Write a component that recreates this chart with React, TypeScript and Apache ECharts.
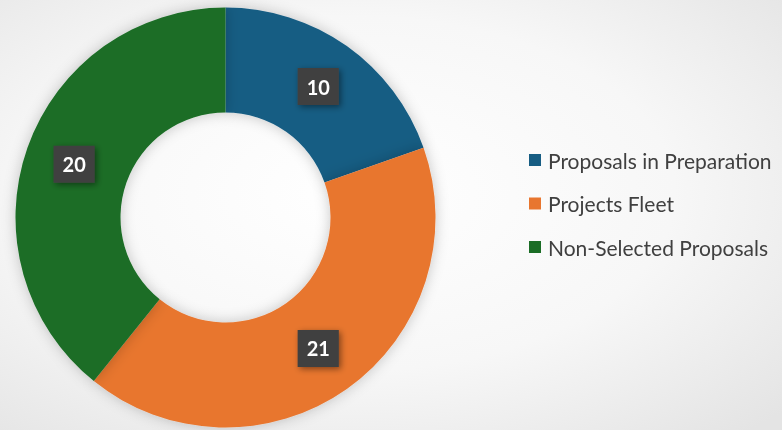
import React, { useEffect, useRef } from "react";
import * as echarts from "echarts";

const categories = ["Proposals in Preparation", "Projects Fleet", "Non-Selected Proposals"];
const values = [10, 21, 20];
const colors = ["#175d83", "#e8762f", "#1b6d26"];

export default function App() {
  const ref = useRef<HTMLDivElement>(null);
  useEffect(() => {
    if (!ref.current) return;
    const chart = echarts.init(ref.current, undefined, { renderer: "svg" });
    chart.setOption({
      animation: false,
      backgroundColor: {
        type: "radial",
        x: 0.45,
        y: 0.45,
        r: 0.75,
        colorStops: [
          { offset: 0, color: "#ffffff" },
          { offset: 0.55, color: "#f7f7f7" },
          { offset: 1, color: "#e4e4e4" },
        ],
      },
      legend: {
        orient: "vertical",
        left: 524,
        top: 143,
        icon: "rect",
        itemWidth: 12,
        itemHeight: 12,
        itemGap: 19.5,
        textStyle: {
          fontFamily: "Lato",
          fontSize: 21,
          lineHeight: 24,
          color: "#404040",
          padding: [0, 0, 0, 2],
        },
        data: categories,
      },
      series: [
        {
          type: "pie",
          center: [225.5, 217.5],
          radius: [105, 210],
          startAngle: 90,
          clockwise: true,
          silent: true,
          itemStyle: {
            shadowBlur: 14,
            shadowColor: "rgba(0,0,0,0.22)",
          },
          label: {
            show: true,
            position: "inside",
            formatter: "{c}",
            color: "#ffffff",
            fontFamily: "Lato",
            fontWeight: "bold",
            fontSize: 20,
            lineHeight: 21,
            backgroundColor: "#404040",
            padding: [8, 9],
            shadowBlur: 6,
            shadowColor: "rgba(0,0,0,0.45)",
            shadowOffsetX: 2,
            shadowOffsetY: 2,
          },
          labelLine: { show: false },
          data: categories.map((name, i) => ({
            name,
            value: values[i],
            itemStyle: { color: colors[i] },
          })),
        },
      ],
    });
    return () => chart.dispose();
  }, []);
  return (
    <div
      ref={ref}
      style={{ position: "fixed", left: 0, top: 0, width: 782, height: 430 }}
    />
  );
}
